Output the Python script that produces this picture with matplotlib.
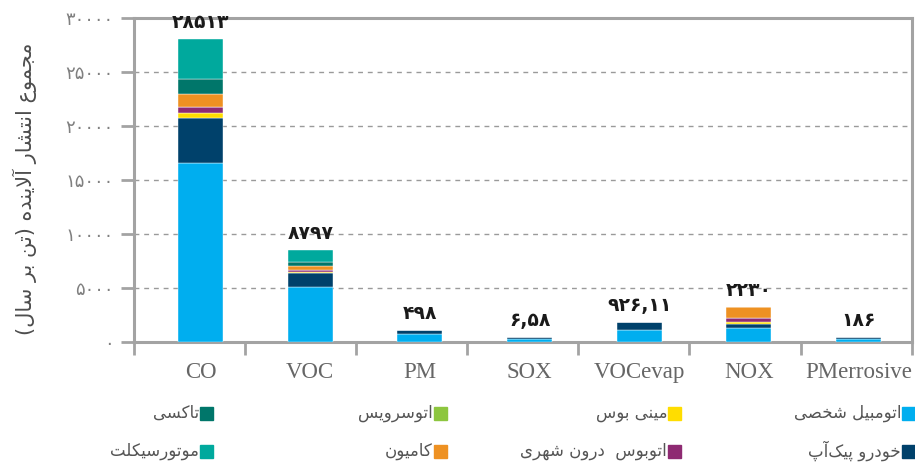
import numpy as np
import matplotlib.pyplot as plt
from matplotlib.patches import Rectangle

plt.rcParams['font.family'] = ['DejaVu Sans']

# ---- data (tons per year) ----
categories = ['CO', 'VOC', 'PM', 'SOX', 'VOCevap', 'NOX', 'PMerrosive']
total_labels = ['۲۸۵۱۳', '۸۷۹۷', '۴۹۸', '۶,۵۸', '۹۲۶,۱۱', '۲۲۳۰', '۱۸۶']

private_car = [16540, 5095, 760, 350, 1150, 1310, 320]
pickup = [4140, 1300, 390, 130, 715, 370, 160]
minibus = [460, 150, 0, 0, 0, 215, 0]
city_bus = [560, 155, 0, 0, 0, 400, 0]
service_bus = [0, 0, 0, 0, 0, 0, 0]
truck = [1240, 370, 0, 0, 0, 960, 0]
taxi = [1420, 400, 0, 0, 0, 0, 0]
motorcycle = [3680, 1085, 0, 0, 0, 0, 0]

yticks = [0, 5000, 10000, 15000, 20000, 25000, 30000]

# stack order bottom -> top
series = [
    ('اتومبیل شخصی', private_car, '#00AEEF'),
    ('خودرو پیک\u200cآپ', pickup, '#00416B'),
    ('مینی بوس', minibus, '#FFDD00'),
    ('اتوبوس  درون شهری', city_bus, '#8E2A72'),
    ('اتوسرویس', service_bus, '#8DC63F'),
    ('کامیون', truck, '#EE9122'),
    ('تاکسی', taxi, '#00766A'),
    ('موتورسیکلت', motorcycle, '#00A99D'),
]

# legend placement: (column from right, row)
legend_pos = {
    'اتومبیل شخصی': (0, 0), 'خودرو پیک\u200cآپ': (0, 1),
    'مینی بوس': (1, 0), 'اتوبوس  درون شهری': (1, 1),
    'اتوسرویس': (2, 0), 'کامیون': (2, 1),
    'تاکسی': (3, 0), 'موتورسیکلت': (3, 1),
}

# ---- tiny persian shaper (matplotlib has no arabic shaping) ----
FORMS = {
    'ا': ('\uFE8D', '\uFE8E'), 'آ': ('\uFE81', '\uFE82'),
    'ب': ('\uFE8F', '\uFE90', '\uFE91', '\uFE92'),
    'پ': ('\uFB56', '\uFB57', '\uFB58', '\uFB59'),
    'ت': ('\uFE95', '\uFE96', '\uFE97', '\uFE98'),
    'ج': ('\uFE9D', '\uFE9E', '\uFE9F', '\uFEA0'),
    'خ': ('\uFEA5', '\uFEA6', '\uFEA7', '\uFEA8'),
    'د': ('\uFEA9', '\uFEAA'),
    'ر': ('\uFEAD', '\uFEAE'),
    'س': ('\uFEB1', '\uFEB2', '\uFEB3', '\uFEB4'),
    'ش': ('\uFEB5', '\uFEB6', '\uFEB7', '\uFEB8'),
    'ص': ('\uFEB9', '\uFEBA', '\uFEBB', '\uFEBC'),
    'ع': ('\uFEC9', '\uFECA', '\uFECB', '\uFECC'),
    'ک': ('\uFB8E', '\uFB8F', '\uFB90', '\uFB91'),
    'ل': ('\uFEDD', '\uFEDE', '\uFEDF', '\uFEE0'),
    'م': ('\uFEE1', '\uFEE2', '\uFEE3', '\uFEE4'),
    'ن': ('\uFEE5', '\uFEE6', '\uFEE7', '\uFEE8'),
    'ه': ('\uFEE9', '\uFEEA', '\uFEEB', '\uFEEC'),
    'و': ('\uFEED', '\uFEEE'),
    'ی': ('\uFBFC', '\uFBFD', '\uFBFE', '\uFBFF'),
}


def fa(text):
    out = []
    chars = list(text)
    i = 0
    while i < len(chars):
        c = chars[i]
        prev = chars[i - 1] if i > 0 else ''
        prev_join = prev in FORMS and len(FORMS[prev]) == 4
        if c == 'ل' and i + 1 < len(chars) and chars[i + 1] == 'ا':
            out.append('\uFEFC' if prev_join else '\uFEFB')
            i += 2
            continue
        if c not in FORMS:
            if c != '\u200c':
                out.append(c)
            i += 1
            continue
        f = FORMS[c]
        nxt = chars[i + 1] if i + 1 < len(chars) else ''
        next_join = len(f) == 4 and nxt in FORMS
        if prev_join and next_join:
            out.append(f[3])
        elif prev_join:
            out.append(f[1])
        elif next_join:
            out.append(f[2])
        else:
            out.append(f[0])
        i += 1
    s = ''.join(out)[::-1]
    return s.translate(str.maketrans('()', ')('))


def fa_digits(v):
    return str(v).translate(str.maketrans('0123456789', '۰۱۲۳۴۵۶۷۸۹'))


# ---- figure ----
fig = plt.figure(figsize=(9.15, 4.62), dpi=100)
ax = fig.add_axes([0.1464, 0.2587, 0.8500, 0.7034])

grey = '#A3A3A3'
# bars sit a bit tighter than the category separators
x = np.arange(len(categories)) * 0.987
bottom = np.zeros(len(categories))
for name, vals, col in series:
    ax.bar(x, vals, 0.405, bottom=bottom, color=col, edgecolor='white',
           linewidth=0.3, zorder=3)
    bottom += np.array(vals)

for xi, top, lab in zip(x, bottom, total_labels):
    ax.annotate(lab, (xi, top), xytext=(0, 5), textcoords='offset points',
                ha='center', va='bottom', fontsize=13.5, fontweight='bold',
                color='#1a1a1a', annotation_clip=False)

ax.set_xlim(-0.6, 6.4)
ax.set_ylim(0, 30000)
ax.set_yticks(yticks)
ax.set_yticklabels([fa_digits(v) for v in yticks], color='#808080', fontsize=13)
ax.tick_params(axis='y', length=9.5, width=2, color=grey, pad=5)

ax.set_xticks(x)
ax.set_xticklabels(categories, fontfamily='Liberation Serif', fontsize=16.5,
                   color='#666666')
ax.tick_params(axis='x', which='major', length=0, pad=14)
ax.set_xticks(np.arange(-0.6, 6.5, 1.0), minor=True)
ax.tick_params(axis='x', which='minor', length=9, width=2, color=grey)

for s in ax.spines.values():
    s.set_color(grey)
    s.set_linewidth(2.2)

for v in yticks[1:-1]:
    ax.axhline(v, color='#9A9A9A', lw=1, dashes=(3.5, 3.5), zorder=1)

fig.text(0.027, 0.592, fa('مجموع انتشار آلاینده (تن بر سال)'), rotation=90,
         ha='center', va='center', fontsize=15, color='#4d4d4d')

# legend drawn by hand: text on the left of each swatch (right-to-left)
for name, vals, col in series:
    c, r = legend_pos[name]
    xr = 915 - c * 234.0
    yc = 413 + r * 38
    fig.patches.append(Rectangle(((xr - 13) / 915, 1 - (yc + 6.5) / 462),
                                 13 / 915, 13 / 462, color=col,
                                 transform=fig.transFigure))
    fig.text((xr - 14) / 915, 1 - yc / 462, fa(name), ha='right',
             va='center', fontsize=12, color='#555555')

fig.savefig('out.png', dpi=100)
